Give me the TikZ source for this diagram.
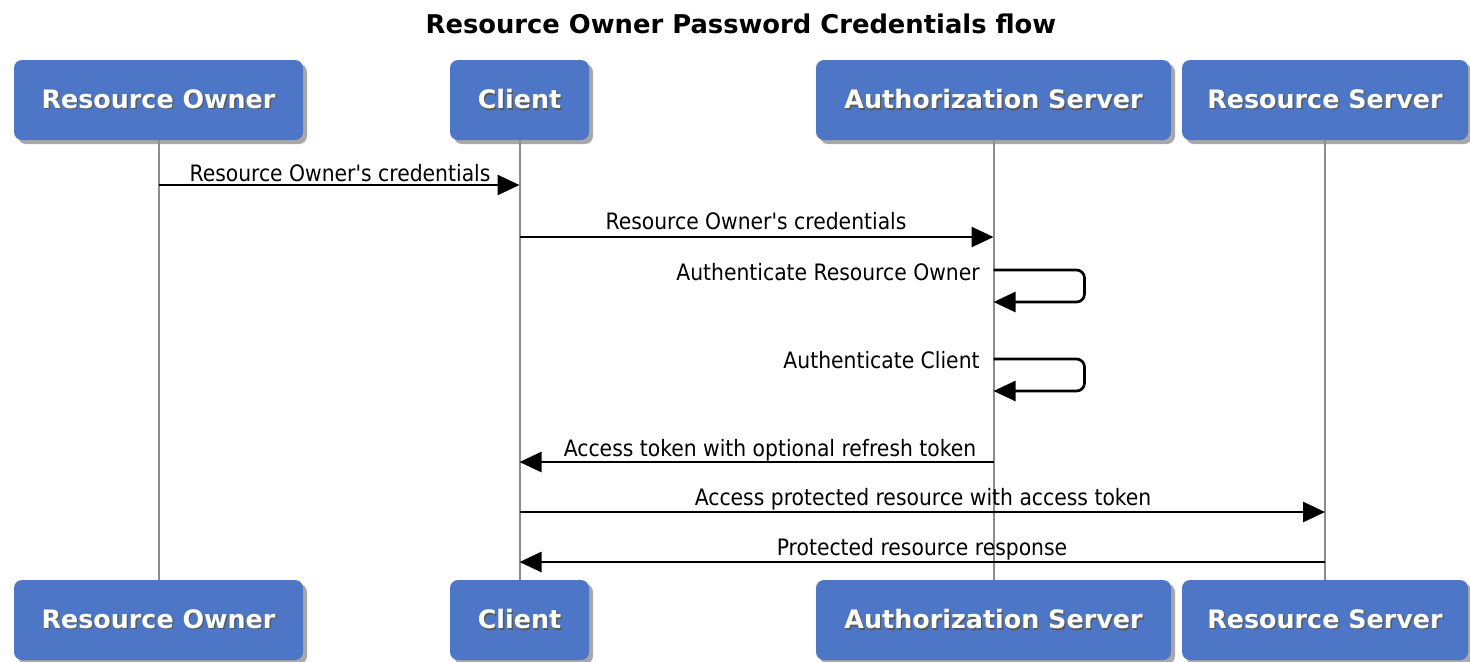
\documentclass[tikz,border=0pt]{standalone}
\usepackage{fontspec}
\setmainfont{DejaVu Sans}
\newfontfamily\boxfont{DejaVu Sans Bold}
\newfontfamily\msgfont{DejaVu Sans Condensed}
\usetikzlibrary{arrows.meta,shadows,calc}
\definecolor{boxblue}{RGB}{77,119,198}
\definecolor{lifegray}{RGB}{140,140,140}
\newcommand\shtext[1]{\leavevmode\rlap{\kern0.7pt\raisebox{-0.7pt}{\textcolor{black!65}{#1}}}#1}
\begin{document}
\begin{tikzpicture}[x=0.5pt,y=-0.5pt,
  actor/.style={draw=none, fill=boxblue, rounded corners=4pt, minimum height=40pt,
    inner sep=0pt, text=white, font=\boxfont\fontsize{12.7}{15}\selectfont,
    drop shadow={shadow xshift=2pt, shadow yshift=-2pt, opacity=0.45, fill=black!75}},
  lifeline/.style={draw=lifegray, line width=1pt},
  msg/.style={draw=black, line width=1.35pt, -{Triangle[length=11pt,width=10pt]}},
  msglabel/.style={font=\msgfont\fontsize{11.3}{13}\selectfont, inner sep=0pt, anchor=base},
  loopr/.style={msg, rounded corners=4pt}
]
\useasboundingbox (0,0) rectangle (1470,661);
\fill[white] (0,0) rectangle (1470,661);
% title
\node[font=\boxfont\fontsize{12.9}{15}\selectfont, inner sep=0pt, anchor=base] (title) at (741,33) {Resource Owner Password Credentials flow};
% actors top
\node[actor, minimum width=144.5pt] (ro) at (158.5,100) {\shtext{Resource Owner}};
\node[actor, minimum width=69.5pt] (cl) at (519.5,100) {\shtext{Client}};
\node[actor, minimum width=177.5pt] (as) at (993.5,100) {\shtext{Authorization Server}};
\node[actor, minimum width=143pt] (rs) at (1325,100) {\shtext{Resource Server}};
% actors bottom
\node[actor, minimum width=144.5pt] (ro2) at (158.5,620) {\shtext{Resource Owner}};
\node[actor, minimum width=69.5pt] (cl2) at (519.5,620) {\shtext{Client}};
\node[actor, minimum width=177.5pt] (as2) at (993.5,620) {\shtext{Authorization Server}};
\node[actor, minimum width=143pt] (rs2) at (1325,620) {\shtext{Resource Server}};
% lifelines
\draw[lifeline] (ro.south) -- (ro2.north);
\draw[lifeline] (cl.south) -- (cl2.north);
\draw[lifeline] (as.south) -- (as2.north);
\draw[lifeline] (rs.south) -- (rs2.north);
% message coordinates
\coordinate (m1a) at (ro |- 0,185); \coordinate (m1b) at (cl |- 0,185);
\coordinate (m2a) at (cl |- 0,237); \coordinate (m2b) at (as |- 0,237);
\coordinate (l1a) at (as |- 0,270); \coordinate (l1b) at (as |- 0,302);
\coordinate (l2a) at (as |- 0,359); \coordinate (l2b) at (as |- 0,391);
\coordinate (m5a) at (as |- 0,462); \coordinate (m5b) at (cl |- 0,462);
\coordinate (m6a) at (cl |- 0,512); \coordinate (m6b) at (rs |- 0,512);
\coordinate (m7a) at (rs |- 0,562); \coordinate (m7b) at (cl |- 0,562);
% messages
\draw[msg] (m1a) -- (m1b);
\node[msglabel] (t1) at (340,181) {Resource Owner's credentials};
\draw[msg] (m2a) -- (m2b);
\node[msglabel] (t2) at (756,229) {Resource Owner's credentials};
\draw[loopr] (l1a) -- ++(91,0) -- ++(0,32) -- (l1b);
\node[msglabel, anchor=base east] (t3) at (980,280) {Authenticate Resource Owner};
\draw[loopr] (l2a) -- ++(91,0) -- ++(0,32) -- (l2b);
\node[msglabel, anchor=base east] (t4) at (980,368) {Authenticate Client};
\draw[msg] (m5a) -- (m5b);
\node[msglabel] (t5) at (770,456) {Access token with optional refresh token};
\draw[msg] (m6a) -- (m6b);
\node[msglabel] (t6) at (923,505) {Access protected resource with access token};
\draw[msg] (m7a) -- (m7b);
\node[msglabel] (t7) at (922,555) {Protected resource response};
\end{tikzpicture}
\end{document}
